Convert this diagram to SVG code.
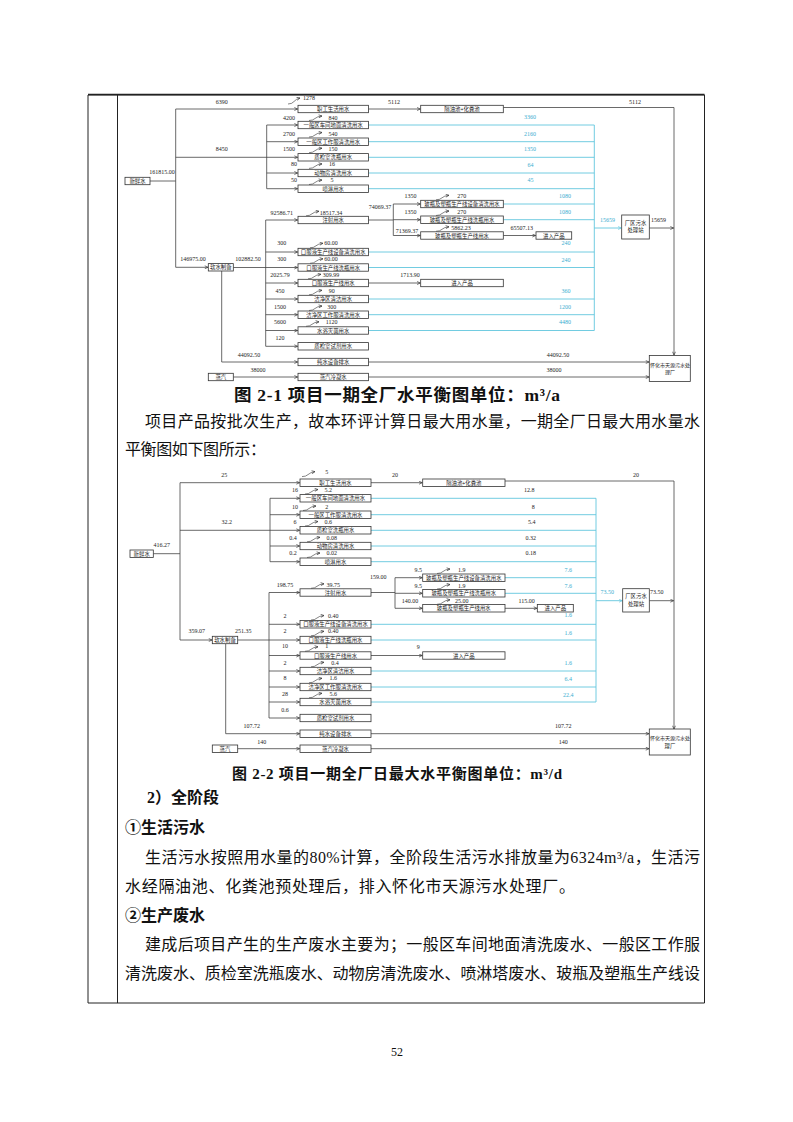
<svg xmlns="http://www.w3.org/2000/svg" width="793" height="1122" viewBox="0 0 793 1122">
<style>
.bx{fill:#fff;stroke:#333;stroke-width:0.8}
.bt{font-family:"Noto Sans CJK SC",sans-serif;font-size:5.4px;text-anchor:middle;fill:#222}
.n{font-family:"Liberation Serif",serif;font-size:6px;text-anchor:middle;fill:#222}
.nc{font-family:"Liberation Serif",serif;font-size:6px;text-anchor:middle;fill:#3aaed0}
.ln{fill:none;stroke:#444;stroke-width:0.8}
.la{fill:none;stroke:#444;stroke-width:0.8;marker-end:url(#a)}
.cl{fill:none;stroke:#62c6de;stroke-width:0.9}
.ca{fill:none;stroke:#62c6de;stroke-width:0.9;marker-end:url(#ac)}
.ev{fill:none;stroke:#333;stroke-width:0.6;marker-end:url(#a)}
.fr{fill:none;stroke:#222;stroke-width:1}
.tx{font-family:"Liberation Serif","Noto Sans CJK SC",serif;font-size:16px;fill:#111}
.hd{font-family:"Liberation Serif","Noto Sans CJK SC",sans-serif;font-size:16px;font-weight:bold;fill:#111}
.cap{font-family:"Liberation Serif","Noto Sans CJK SC",sans-serif;font-size:15px;font-weight:bold;fill:#111;text-anchor:middle}
</style>
<defs>
<marker id="a" viewBox="0 0 8 8" refX="7.5" refY="4" markerWidth="4" markerHeight="4" orient="auto" markerUnits="userSpaceOnUse"><path d="M1,1 L7.5,4 L1,7" fill="none" stroke="#333" stroke-width="1.3"/></marker>
<marker id="ac" viewBox="0 0 8 8" refX="7.5" refY="4" markerWidth="4" markerHeight="4" orient="auto" markerUnits="userSpaceOnUse"><path d="M1,1 L7.5,4 L1,7" fill="none" stroke="#62c6de" stroke-width="1.3"/></marker>
</defs>
<rect width="793" height="1122" fill="#fff"/>
<g id="frame">
<path class="fr" d="M88,95 H704.5 M88,95 V1003 M117.5,95 V1003 M704.5,95 V1003 M88,1003 H704.5" />
<path d="M88,94.5 H704.5" stroke="#222" stroke-width="1.6"/>
</g>

<!-- ============ Diagram 1 connectors ============ -->
<g id="connectors1">
<path class="ln" d="M150,181 H175.7 M175.7,109 V267.3"/>
<path class="la" d="M175.7,109 H297.6"/>
<path class="la" d="M175.7,157.3 H297.6"/>
<path class="la" d="M175.7,267.3 H208"/>
<path class="ln" d="M266.7,125 V188.7"/>
<path class="la" d="M266.7,125 H297.6"/>
<path class="la" d="M266.7,141.7 H297.6"/>
<path class="la" d="M266.7,173 H297.6"/>
<path class="la" d="M266.7,188.7 H297.6"/>
<path class="la" d="M233.3,267.5 H297.6"/>
<path class="ln" d="M265.7,220 V346.3"/>
<path class="la" d="M265.7,220 H297.6"/>
<path class="la" d="M265.7,252 H297.6"/>
<path class="la" d="M265.7,283 H297.6"/>
<path class="la" d="M265.7,299 H297.6"/>
<path class="la" d="M265.7,314.7 H297.6"/>
<path class="la" d="M265.7,330.5 H297.6"/>
<path class="la" d="M265.7,346.3 H297.6"/>
<path class="la" d="M221.7,271 V362 H297.6"/>
<path class="la" d="M233.3,377 H297.6"/>
<path class="la" d="M368.5,109 H420.3"/>
<path class="la" d="M503.3,107.5 H674 V355"/>
<path class="ln" d="M368.5,220 H393.3 M393.3,204 V235.5"/>
<path class="la" d="M393.3,204 H420.3"/>
<path class="la" d="M393.3,219.7 H420.3"/>
<path class="la" d="M393.3,235.5 H420.3"/>
<path class="la" d="M503.3,235.5 H535.6"/>
<path class="la" d="M368.5,283 H420.3"/>
<path class="la" d="M368.5,362 H649"/>
<path class="la" d="M368.5,377 H649"/>
<path class="la" d="M649.3,228 H673.6"/>
<path class="cl" d="M368.5,125 H594.3 M368.5,141.7 H594.3 M368.5,157.3 H594.3 M368.5,173 H594.3 M368.5,188.7 H594.3 M503.3,204 H594.3 M503.3,219.7 H594.3 M368.5,252 H594.3 M368.5,267.5 H594.3 M368.5,299 H594.3 M368.5,314.7 H594.3 M368.5,330.5 H594.3 M594.3,125 V330.5"/>
<path class="ca" d="M594.3,228 H621.3"/>
<path class="ev" d="M288,104 q4,0 6,-2.5 t6,-3.5"/>
<path class="ev" d="M309,120.5 q4,0 6,-2 t7,-2.5"/>
<path class="ev" d="M309,137 q4,0 6,-2 t7,-2.5"/>
<path class="ev" d="M309,152.7 q4,0 6,-2 t7,-2.5"/>
<path class="ev" d="M309,168.4 q4,0 6,-2 t7,-2.5"/>
<path class="ev" d="M309,184.5 q4,0 6,-2 t7,-2.5"/>
<path class="ev" d="M306,215.8 q4,0 6,-2 t7,-2.5"/>
<path class="ev" d="M310,247.8 q4,0 6,-2 t7,-2.5"/>
<path class="ev" d="M310,263.3 q4,0 6,-2 t7,-2.5"/>
<path class="ev" d="M308,278.8 q4,0 6,-2 t7,-2.5"/>
<path class="ev" d="M309,294.8 q4,0 6,-2 t7,-2.5"/>
<path class="ev" d="M309,310.5 q4,0 6,-2 t7,-2.5"/>
<path class="ev" d="M306,326.3 q4,0 6,-2 t7,-2.5"/>
<path class="ev" d="M436,199.8 q4,0 6,-2 t7,-2.5"/>
<path class="ev" d="M436,215.5 q4,0 6,-2 t7,-2.5"/>
<path class="ev" d="M436,231.3 q4,0 6,-2 t7,-2.5"/>
</g>

<!-- ============ Diagram 1 nodes ============ -->
<g id="d1-xinxianshui"><rect class="bx" x="125" y="177.3" width="25" height="7.4"/><text class="bt" x="137.5" y="183">新鲜水</text></g>
<g id="d1-ruanshui"><rect class="bx" x="208.3" y="263.6" width="25" height="7.4"/><text class="bt" x="220.8" y="269.3">软水制备</text></g>
<g id="d1-zhengqi"><rect class="bx" x="208.3" y="373.3" width="25" height="7.4"/><text class="bt" x="220.8" y="379">蒸汽</text></g>
<g id="d1-zhigong"><rect class="bx" x="298" y="105.3" width="70.5" height="7.4"/><text class="bt" x="333.2" y="111">职工生活用水</text></g>
<g id="d1-chejian"><rect class="bx" x="298" y="121.3" width="70.5" height="7.4"/><text class="bt" x="333.2" y="127">一般区车间地面清洗用水</text></g>
<g id="d1-gongzuofu"><rect class="bx" x="298" y="138" width="70.5" height="7.4"/><text class="bt" x="333.2" y="143.7">一般区工作服清洗用水</text></g>
<g id="d1-xiping"><rect class="bx" x="298" y="153.6" width="70.5" height="7.4"/><text class="bt" x="333.2" y="159.3">质检室洗瓶用水</text></g>
<g id="d1-dongwu"><rect class="bx" x="298" y="169.3" width="70.5" height="7.4"/><text class="bt" x="333.2" y="175">动物房清洗用水</text></g>
<g id="d1-penlin"><rect class="bx" x="298" y="185" width="70.5" height="7.4"/><text class="bt" x="333.2" y="190.7">喷淋用水</text></g>
<g id="d1-zhushe"><rect class="bx" x="298" y="216.3" width="70.5" height="7.4"/><text class="bt" x="333.2" y="222">注射用水</text></g>
<g id="d1-kf-shebei"><rect class="bx" x="298" y="248.3" width="70.5" height="7.4"/><text class="bt" x="333.2" y="254">口服液生产线设备清洗用水</text></g>
<g id="d1-kf-xiping"><rect class="bx" x="298" y="263.8" width="70.5" height="7.4"/><text class="bt" x="333.2" y="269.5">口服液生产线洗瓶用水</text></g>
<g id="d1-kf-yongshui"><rect class="bx" x="298" y="279.3" width="70.5" height="7.4"/><text class="bt" x="333.2" y="285">口服液生产线用水</text></g>
<g id="d1-jj-qingjie"><rect class="bx" x="298" y="295.3" width="70.5" height="7.4"/><text class="bt" x="333.2" y="301">洁净区清洁用水</text></g>
<g id="d1-jj-gongzuofu"><rect class="bx" x="298" y="311" width="70.5" height="7.4"/><text class="bt" x="333.2" y="316.7">洁净区工作服清洗用水</text></g>
<g id="d1-shuiyu"><rect class="bx" x="298" y="326.8" width="70.5" height="7.4"/><text class="bt" x="333.2" y="332.5">水浴灭菌用水</text></g>
<g id="d1-shiji"><rect class="bx" x="298" y="342.6" width="70.5" height="7.4"/><text class="bt" x="333.2" y="348.3">质检室试剂用水</text></g>
<g id="d1-chunshui"><rect class="bx" x="298" y="358.3" width="70.5" height="7.4"/><text class="bt" x="333.2" y="364">纯水设备排水</text></g>
<g id="d1-lengning"><rect class="bx" x="298" y="373.3" width="70.5" height="7.4"/><text class="bt" x="333.2" y="379">蒸汽冷凝水</text></g>
<g id="d1-geyou"><rect class="bx" x="420.7" y="105.3" width="82.6" height="7.4"/><text class="bt" x="462" y="111">隔油池+化粪池</text></g>
<g id="d1-bp-shebei"><rect class="bx" x="420.7" y="200.3" width="82.6" height="7.4"/><text class="bt" x="462" y="206">玻瓶及塑瓶生产线设备清洗用水</text></g>
<g id="d1-bp-xiping"><rect class="bx" x="420.7" y="216" width="82.6" height="7.4"/><text class="bt" x="462" y="221.7">玻瓶及塑瓶生产线洗瓶用水</text></g>
<g id="d1-bp-yongshui"><rect class="bx" x="420.7" y="231.8" width="82.6" height="7.4"/><text class="bt" x="462" y="237.5">玻瓶及塑瓶生产线用水</text></g>
<g id="d1-chanpin1"><rect class="bx" x="536" y="231.8" width="35.7" height="7.4"/><text class="bt" x="553.8" y="237.5">进入产品</text></g>
<g id="d1-chanpin2"><rect class="bx" x="420.7" y="279.3" width="82.6" height="7.4"/><text class="bt" x="462" y="285">进入产品</text></g>
<g id="d1-changqu"><rect class="bx" x="621.7" y="215" width="27.6" height="24"/><text class="bt" x="635.5" y="224.5">厂区污水</text><text class="bt" x="635.5" y="232">处理站</text></g>
<g id="d1-huaihua"><rect class="bx" x="649.3" y="355.5" width="41" height="26"/><text class="bt" x="670" y="366.5" style="font-size:5px">怀化市天源污水处</text><text class="bt" x="670" y="374" style="font-size:5px">理厂</text></g>

<g id="d1-labels">
<text class="n" x="221.7" y="104">6390</text>
<text class="n" x="309" y="100">1278</text>
<text class="n" x="394" y="104">5112</text>
<text class="n" x="635" y="104">5112</text>
<text class="n" x="289" y="120">4200</text><text class="n" x="333" y="120">840</text>
<text class="n" x="289" y="136">2700</text><text class="n" x="333" y="136">540</text>
<text class="n" x="221.7" y="150.7">8450</text>
<text class="n" x="289" y="151.3">1500</text><text class="n" x="333" y="150.7">150</text>
<text class="n" x="294" y="165.7">80</text><text class="n" x="332" y="165.7">16</text>
<text class="n" x="294" y="182.3">50</text><text class="n" x="332" y="182.3">5</text>
<text class="n" x="162" y="174">161815.00</text>
<text class="n" x="281.7" y="214.7">92586.71</text><text class="n" x="331" y="214.7">18517.34</text>
<text class="n" x="380" y="209">74069.37</text>
<text class="n" x="410.5" y="198">1350</text><text class="n" x="461.7" y="198">270</text>
<text class="n" x="410.5" y="213.7">1350</text><text class="n" x="461.7" y="213.7">270</text>
<text class="n" x="407" y="233">71369.37</text>
<text class="n" x="461" y="230.3">5862.23</text>
<text class="n" x="521.7" y="230.3">65507.13</text>
<text class="n" x="281.7" y="245.3">300</text><text class="n" x="331" y="245.3">60.00</text>
<text class="n" x="193" y="261.3">146975.00</text>
<text class="n" x="248" y="261.3">102882.50</text>
<text class="n" x="281.7" y="261.3">300</text><text class="n" x="331" y="261.3">60.00</text>
<text class="n" x="280" y="277">2025.79</text><text class="n" x="331" y="277">309.99</text>
<text class="n" x="410" y="277">1713.90</text>
<text class="n" x="280" y="293">450</text><text class="n" x="331.7" y="293">90</text>
<text class="n" x="280" y="308.7">1500</text><text class="n" x="331.7" y="308.7">300</text>
<text class="n" x="280" y="324.3">5600</text><text class="n" x="331.7" y="324.3">1120</text>
<text class="n" x="280" y="340.3">120</text>
<text class="n" x="249" y="357">44092.50</text>
<text class="n" x="258" y="372">38000</text>
<text class="n" x="558" y="357">44092.50</text>
<text class="n" x="554" y="372">38000</text>
<text class="n" x="658.5" y="222">15659</text>
<text class="nc" x="607.5" y="222">15659</text>
<text class="nc" x="530" y="119">3360</text>
<text class="nc" x="530" y="135.7">2160</text>
<text class="nc" x="530" y="151.3">1350</text>
<text class="nc" x="530.5" y="166.7">64</text>
<text class="nc" x="530.5" y="182.3">45</text>
<text class="nc" x="565" y="198">1080</text>
<text class="nc" x="565" y="213.7">1080</text>
<text class="nc" x="566" y="245.3">240</text>
<text class="nc" x="566" y="262">240</text>
<text class="nc" x="566" y="293">360</text>
<text class="nc" x="565" y="308.7">1200</text>
<text class="nc" x="565" y="324.3">4480</text>
</g>

<text class="cap" x="397" y="401" style="font-size:17.5px" textLength="326" lengthAdjust="spacing">图 2-1 项目一期全厂水平衡图单位：m³/a</text>
<text class="tx" x="145" y="427" textLength="555" lengthAdjust="spacing">项目产品按批次生产，故本环评计算日最大用水量，一期全厂日最大用水量水</text>
<text class="tx" x="125" y="455" textLength="141" lengthAdjust="spacing">平衡图如下图所示：</text>

<!-- ============ Diagram 2 connectors ============ -->
<g id="connectors2">
<path class="ln" d="M153.3,553.7 H180 M180,482.7 V640"/>
<path class="la" d="M180,482.7 H299.6"/>
<path class="la" d="M180,530.3 H299.6"/>
<path class="la" d="M180,640 H212"/>
<path class="ln" d="M270,498.3 V561.7"/>
<path class="la" d="M270,498.3 H299.6"/>
<path class="la" d="M270,514.7 H299.6"/>
<path class="la" d="M270,546 H299.6"/>
<path class="la" d="M270,561.7 H299.6"/>
<path class="la" d="M237.7,640 H299.6"/>
<path class="ln" d="M269,592.5 V718"/>
<path class="la" d="M269,592.5 H299.6"/>
<path class="la" d="M269,624.3 H299.6"/>
<path class="la" d="M269,655.5 H299.6"/>
<path class="la" d="M269,671 H299.6"/>
<path class="la" d="M269,687 H299.6"/>
<path class="la" d="M269,702 H299.6"/>
<path class="la" d="M269,718 H299.6"/>
<path class="la" d="M225.7,644 V733.7 H299.6"/>
<path class="la" d="M237.7,748.7 H299.6"/>
<path class="la" d="M371,482.7 H422.3"/>
<path class="la" d="M505,481 H674 V729"/>
<path class="ln" d="M371,592.5 H395 M395,577.7 V608.3"/>
<path class="la" d="M395,577.7 H422.3"/>
<path class="la" d="M395,593.3 H422.3"/>
<path class="la" d="M395,608.3 H422.3"/>
<path class="la" d="M505,608.3 H537"/>
<path class="la" d="M371,655.5 H422.3"/>
<path class="la" d="M371,733.7 H649"/>
<path class="la" d="M371,748.7 H649"/>
<path class="la" d="M649.3,600.7 H673.6"/>
<path class="cl" d="M371,498.3 H596 M371,514.7 H596 M371,530.3 H596 M371,546 H596 M371,561.7 H596 M505,577.7 H596 M505,593.3 H596 M371,624.3 H596 M371,640 H596 M371,671 H596 M371,687 H596 M371,702 H596 M596,498.3 V702"/>
<path class="ca" d="M596,600.7 H622.3"/>
<path class="ev" d="M302,476.6 q4,0 6,-2 t7,-3"/>
<path class="ev" d="M305,494 q4,0 6,-2 t7,-2.5"/>
<path class="ev" d="M303,510.5 q4,0 6,-2 t7,-2.5"/>
<path class="ev" d="M305,526 q4,0 6,-2 t7,-2.5"/>
<path class="ev" d="M307,541.8 q4,0 6,-2 t7,-2.5"/>
<path class="ev" d="M307,557.5 q4,0 6,-2 t7,-2.5"/>
<path class="ev" d="M311,588.3 q4,0 6,-2 t7,-2.5"/>
<path class="ev" d="M311,620 q4,0 6,-2 t7,-2.5"/>
<path class="ev" d="M311,635.8 q4,0 6,-2 t7,-2.5"/>
<path class="ev" d="M305,651.3 q4,0 6,-2 t7,-2.5"/>
<path class="ev" d="M311,666.8 q4,0 6,-2 t7,-2.5"/>
<path class="ev" d="M309,682.8 q4,0 6,-2 t7,-2.5"/>
<path class="ev" d="M309,697.8 q4,0 6,-2 t7,-2.5"/>
<path class="ev" d="M437,573.5 q4,0 6,-2 t7,-2.5"/>
<path class="ev" d="M437,589 q4,0 6,-2 t7,-2.5"/>
<path class="ev" d="M437,604.3 q4,0 6,-2 t7,-2.5"/>
</g>

<!-- ============ Diagram 2 nodes ============ -->
<g id="d2-xinxianshui"><rect class="bx" x="130" y="550" width="23.3" height="7.4"/><text class="bt" x="141.7" y="555.7">新鲜水</text></g>
<g id="d2-ruanshui"><rect class="bx" x="212.3" y="636.3" width="25.4" height="7.4"/><text class="bt" x="225" y="642">软水制备</text></g>
<g id="d2-zhengqi"><rect class="bx" x="212.3" y="745" width="25.4" height="7.4"/><text class="bt" x="225" y="750.7">蒸汽</text></g>
<g id="d2-zhigong"><rect class="bx" x="300" y="479" width="71" height="7.4"/><text class="bt" x="335.5" y="484.7">职工生活用水</text></g>
<g id="d2-chejian"><rect class="bx" x="300" y="494.6" width="71" height="7.4"/><text class="bt" x="335.5" y="500.3">一般区车间地面清洗用水</text></g>
<g id="d2-gongzuofu"><rect class="bx" x="300" y="511" width="71" height="7.4"/><text class="bt" x="335.5" y="516.7">一般区工作服清洗用水</text></g>
<g id="d2-xiping"><rect class="bx" x="300" y="526.6" width="71" height="7.4"/><text class="bt" x="335.5" y="532.3">质检室洗瓶用水</text></g>
<g id="d2-dongwu"><rect class="bx" x="300" y="542.3" width="71" height="7.4"/><text class="bt" x="335.5" y="548">动物房清洗用水</text></g>
<g id="d2-penlin"><rect class="bx" x="300" y="558" width="71" height="7.4"/><text class="bt" x="335.5" y="563.7">喷淋用水</text></g>
<g id="d2-zhushe"><rect class="bx" x="300" y="588.8" width="71" height="7.4"/><text class="bt" x="335.5" y="594.5">注射用水</text></g>
<g id="d2-kf-shebei"><rect class="bx" x="300" y="620.6" width="71" height="7.4"/><text class="bt" x="335.5" y="626.3">口服液生产线设备清洗用水</text></g>
<g id="d2-kf-xiping"><rect class="bx" x="300" y="636.3" width="71" height="7.4"/><text class="bt" x="335.5" y="642">口服液生产线洗瓶用水</text></g>
<g id="d2-kf-yongshui"><rect class="bx" x="300" y="651.8" width="71" height="7.4"/><text class="bt" x="335.5" y="657.5">口服液生产线用水</text></g>
<g id="d2-jj-qingjie"><rect class="bx" x="300" y="667.3" width="71" height="7.4"/><text class="bt" x="335.5" y="673">洁净区清洁用水</text></g>
<g id="d2-jj-gongzuofu"><rect class="bx" x="300" y="683.3" width="71" height="7.4"/><text class="bt" x="335.5" y="689">洁净区工作服清洗用水</text></g>
<g id="d2-shuiyu"><rect class="bx" x="300" y="698.3" width="71" height="7.4"/><text class="bt" x="335.5" y="704">水浴灭菌用水</text></g>
<g id="d2-shiji"><rect class="bx" x="300" y="714.3" width="71" height="7.4"/><text class="bt" x="335.5" y="720">质检室试剂用水</text></g>
<g id="d2-chunshui"><rect class="bx" x="300" y="730" width="71" height="7.4"/><text class="bt" x="335.5" y="735.7">纯水设备排水</text></g>
<g id="d2-lengning"><rect class="bx" x="300" y="745" width="71" height="7.4"/><text class="bt" x="335.5" y="750.7">蒸汽冷凝水</text></g>
<g id="d2-geyou"><rect class="bx" x="422.7" y="479" width="82.3" height="7.4"/><text class="bt" x="463.8" y="484.7">隔油池+化粪池</text></g>
<g id="d2-bp-shebei"><rect class="bx" x="422.7" y="574" width="82.3" height="7.4"/><text class="bt" x="463.8" y="579.7">玻瓶及塑瓶生产线设备清洗用水</text></g>
<g id="d2-bp-xiping"><rect class="bx" x="422.7" y="589.6" width="82.3" height="7.4"/><text class="bt" x="463.8" y="595.3">玻瓶及塑瓶生产线洗瓶用水</text></g>
<g id="d2-bp-yongshui"><rect class="bx" x="422.7" y="604.6" width="82.3" height="7.4"/><text class="bt" x="463.8" y="610.3">玻瓶及塑瓶生产线用水</text></g>
<g id="d2-chanpin1"><rect class="bx" x="537.3" y="604.6" width="36" height="7.4"/><text class="bt" x="555.3" y="610.3">进入产品</text></g>
<g id="d2-chanpin2"><rect class="bx" x="422.7" y="651.8" width="82.3" height="7.4"/><text class="bt" x="463.8" y="657.5">进入产品</text></g>
<g id="d2-changqu"><rect class="bx" x="622.7" y="588.7" width="26.6" height="23.3"/><text class="bt" x="636" y="598">厂区污水</text><text class="bt" x="636" y="605.5">处理站</text></g>
<g id="d2-huaihua"><rect class="bx" x="649.3" y="729" width="41" height="26"/><text class="bt" x="670" y="740" style="font-size:5px">怀化市天源污水处</text><text class="bt" x="670" y="747.5">理厂</text></g>

<g id="d2-labels">
<text class="n" x="224.3" y="477">25</text>
<text class="n" x="326.7" y="474.3">5</text>
<text class="n" x="395" y="477">20</text>
<text class="n" x="636" y="477">20</text>
<text class="n" x="295" y="492">16</text><text class="n" x="328.3" y="492">5.2</text>
<text class="n" x="295" y="508.7">10</text><text class="n" x="326.7" y="508.7">2</text>
<text class="n" x="226.7" y="523.7">32.2</text>
<text class="n" x="295" y="523.7">6</text><text class="n" x="328.3" y="523.7">0.6</text>
<text class="n" x="293" y="539.7">0.4</text><text class="n" x="331.7" y="539.7">0.08</text>
<text class="n" x="293" y="555.3">0.2</text><text class="n" x="331.7" y="555.3">0.02</text>
<text class="n" x="161.7" y="547">416.27</text>
<text class="n" x="285" y="586.7">198.75</text><text class="n" x="333.3" y="586.7">39.75</text>
<text class="n" x="378.3" y="579.3">159.00</text>
<text class="n" x="418.3" y="571.7">9.5</text><text class="n" x="461.7" y="571.7">1.9</text>
<text class="n" x="418.3" y="588.3">9.5</text><text class="n" x="461.7" y="588.3">1.9</text>
<text class="n" x="410" y="602.7">140.00</text><text class="n" x="461.7" y="602.7">25.00</text>
<text class="n" x="526.7" y="602.7">115.00</text>
<text class="n" x="285" y="618.3">2</text><text class="n" x="333.3" y="618.3">0.40</text>
<text class="n" x="196.7" y="632.7">359.07</text><text class="n" x="243.3" y="632.7">251.35</text>
<text class="n" x="285" y="632.7">2</text><text class="n" x="333.3" y="632.7">0.40</text>
<text class="n" x="285" y="648.3">10</text><text class="n" x="326.7" y="648.3">1</text>
<text class="n" x="418.3" y="649.3">9</text>
<text class="n" x="285" y="665.3">2</text><text class="n" x="335" y="665.3">0.4</text>
<text class="n" x="285" y="680.3">8</text><text class="n" x="333.3" y="680.3">1.6</text>
<text class="n" x="285" y="696">28</text><text class="n" x="333.3" y="696">5.6</text>
<text class="n" x="285" y="712">0.6</text>
<text class="n" x="251.7" y="728">107.72</text>
<text class="n" x="261.7" y="743.7">140</text>
<text class="n" x="563.3" y="728">107.72</text>
<text class="n" x="563.3" y="743.7">140</text>
<text class="n" x="656.7" y="594">73.50</text>
<text class="n" x="529.3" y="492">12.8</text>
<text class="n" x="533.3" y="508.7">8</text>
<text class="n" x="531.7" y="524.3">5.4</text>
<text class="n" x="530.7" y="539.7">0.32</text>
<text class="n" x="530.7" y="555.3">0.18</text>
<text class="nc" x="607.3" y="594">73.50</text>
<text class="nc" x="568.3" y="571.7">7.6</text>
<text class="nc" x="568.3" y="588.3">7.6</text>
<text class="nc" x="568.3" y="617.3">1.6</text>
<text class="nc" x="568.3" y="635">1.6</text>
<text class="nc" x="568.3" y="665.3">1.6</text>
<text class="nc" x="568.3" y="681.3">6.4</text>
<text class="nc" x="568.3" y="697">22.4</text>
</g>

<text class="cap" x="397" y="779" textLength="330" lengthAdjust="spacing">图 2-2 项目一期全厂日最大水平衡图单位：m³/d</text>
<text class="hd" x="147" y="803">2）全阶段</text>
<text class="hd" x="125" y="833">①生活污水</text>
<text class="tx" x="145" y="863" textLength="555" lengthAdjust="spacing">生活污水按照用水量的80%计算，全阶段生活污水排放量为6324m³/a，生活污</text>
<text class="tx" x="125" y="892" textLength="450" lengthAdjust="spacing">水经隔油池、化粪池预处理后，排入怀化市天源污水处理厂。</text>
<text class="hd" x="125" y="921">②生产废水</text>
<text class="tx" x="145" y="950" textLength="555" lengthAdjust="spacing">建成后项目产生的生产废水主要为；一般区车间地面清洗废水、一般区工作服</text>
<text class="tx" x="125" y="979" textLength="575" lengthAdjust="spacing">清洗废水、质检室洗瓶废水、动物房清洗废水、喷淋塔废水、玻瓶及塑瓶生产线设</text>
<text x="397" y="1056" style="font-family:'Liberation Serif',serif;font-size:12px;text-anchor:middle;fill:#111">52</text>
</svg>
